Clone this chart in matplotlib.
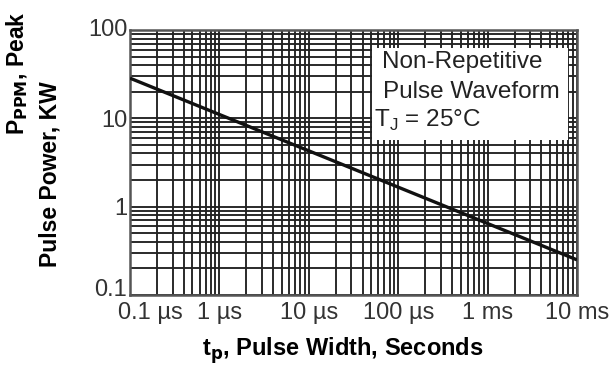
import matplotlib
matplotlib.use("Agg")
import matplotlib.pyplot as plt
import matplotlib.transforms as mtransforms
from matplotlib.patches import Rectangle
import numpy as np

plt.rcParams['font.family'] = ['Liberation Sans', 'DejaVu Sans']

# Data
pulse_width_s = [1e-7, 1e-2]
peak_power_kw = [28.5, 0.25]
x_ticks = [1e-7, 1e-6, 1e-5, 1e-4, 1e-3, 1e-2]
x_tick_labels = ["0.1 µs", "1 µs", "10 µs", "100 µs", "1 ms", "10 ms"]
y_ticks = [0.1, 1, 10, 100]
y_tick_labels = ["0.1", "1", "10", "100"]

W, H = 613, 370
fig = plt.figure(figsize=(W / 100, H / 100), dpi=100)
ax = fig.add_axes([130 / W, 1 - 295 / H, 447 / W, 265 / H])

ax.set_xscale('log')
ax.set_yscale('log')
ax.set_xlim(1e-7, 1e-2)
ax.set_ylim(0.1, 100)

ax.grid(True, which='both', color='#222222', linewidth=1.35)
ax.plot(pulse_width_s, peak_power_kw, color='#111111', linewidth=2.4, zorder=4,
        solid_capstyle='butt')

ax.set_xticks(x_ticks)
ax.set_xticklabels(x_tick_labels)
ax.set_yticks(y_ticks)
ax.set_yticklabels(y_tick_labels)
ax.tick_params(which='both', length=0, labelsize=17, colors='#333333')
ax.tick_params(axis='x', pad=5)
ax.tick_params(axis='y', pad=2)
ax.xaxis.set_minor_formatter(matplotlib.ticker.NullFormatter())
ax.yaxis.set_minor_formatter(matplotlib.ticker.NullFormatter())

# shift first x label right
lbl = ax.get_xticklabels()[0]
lbl.set_transform(lbl.get_transform() + mtransforms.ScaledTranslation(20 / 100, 0, fig.dpi_scale_trans))
# shift lowest and highest y labels up a bit
for i, dy in ((0, 7), (3, -3)):
    yl = ax.get_yticklabels()[i]
    yl.set_transform(yl.get_transform() + mtransforms.ScaledTranslation(0, dy / 100 if dy > 0 else -dy / 100, fig.dpi_scale_trans))

for s in ax.spines.values():
    s.set_color('#555555')
    s.set_linewidth(1.8)

# text box
ax.add_patch(Rectangle((0.541, 0.585), 0.439, 0.347, transform=ax.transAxes,
                       facecolor='white', edgecolor='none', zorder=5))
ax.text((382 - 130) / 447, 1 - (62 - 30) / 265, "Non-Repetitive", transform=ax.transAxes,
        fontsize=17.5, va='center', ha='left', zorder=6, color='#222222')
ax.text((383 - 130) / 447, 1 - (92 - 30) / 265, "Pulse Waveform", transform=ax.transAxes,
        fontsize=17.5, va='center', ha='left', zorder=6, color='#222222')
ax.text((374 - 130) / 447, 1 - (120 - 30) / 265, "T$_\\mathregular{J}$ = 25°C", transform=ax.transAxes,
        fontsize=17.5, va='center', ha='left', zorder=6, color='#222222')

# axis labels
fig.text(343 / W, 1 - 351 / H, "t$_\\mathbf{p}$, Pulse Width, Seconds", fontsize=17,
         fontweight='bold', ha='center', va='center')
fig.text(17 / W, 1 - 73 / H, "P$_\\mathbf{PPM}$, Peak", fontsize=16.5, fontweight='bold',
         ha='center', va='center', rotation=90)
fig.text(50 / W, 1 - 174 / H, "Pulse Power, KW", fontsize=16.5, fontweight='bold',
         ha='center', va='center', rotation=90)

fig.savefig("out.png", dpi=100, facecolor='white')
